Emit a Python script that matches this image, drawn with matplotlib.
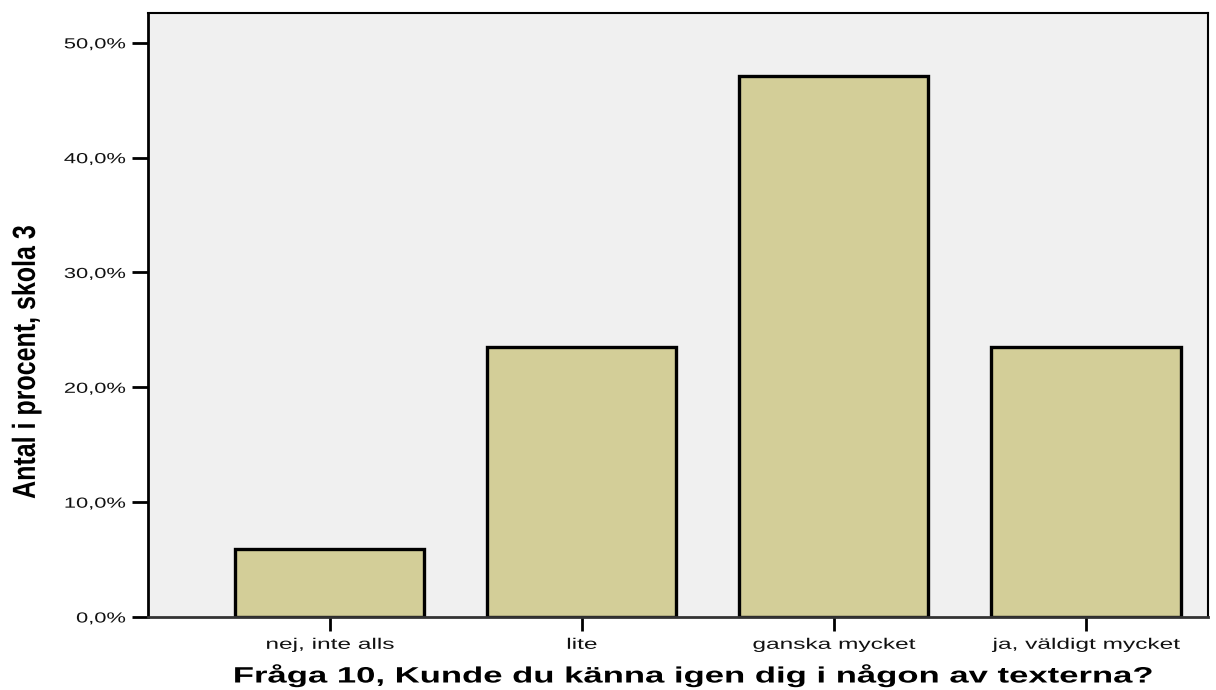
import matplotlib
matplotlib.use('Agg')
import matplotlib.pyplot as plt
from matplotlib.patheffects import AbstractPathEffect
from matplotlib.transforms import Affine2D

categories = ['nej, inte alls', 'lite', 'ganska mycket', 'ja, väldigt mycket']
percent = [5.9, 23.5, 47.1, 23.5]
yticks = [0, 10, 20, 30, 40, 50]

plt.rcParams['font.family'] = ['Liberation Sans', 'DejaVu Sans']


class StretchX(AbstractPathEffect):
    """Widen text horizontally (screen x) around an anchor, like the source export."""

    def __init__(self, sx, anchor='center'):
        super().__init__()
        self.sx = sx
        self.anchor = anchor

    def draw_path(self, renderer, gc, tpath, affine, rgbFace=None):
        ext = tpath.get_extents(affine)
        cx = {'left': ext.x0, 'right': ext.x1,
              'center': (ext.x0 + ext.x1) / 2}[self.anchor]
        affine = affine + Affine2D().translate(-cx, 0).scale(self.sx, 1).translate(cx, 0)
        renderer.draw_path(gc, tpath, affine, rgbFace)


fig = plt.figure(figsize=(12.16, 6.9), dpi=100)
ax = fig.add_axes([0.1217, 0.1058, 0.8717, 0.8754])
ax.set_facecolor('#F0F0F0')

x = list(range(len(categories)))
ax.bar(x, percent, width=0.75, color='#D3CE98', edgecolor='black', linewidth=2.4, zorder=2)

ax.set_xlim(-0.722, 3.484)
ax.set_ylim(0, 52.6)

ax.set_xticks(x)
xlbls = ax.set_xticklabels(categories, fontsize=11, color='#111111')
for t in xlbls:
    t.set_path_effects([StretchX(1.6, 'center')])

ax.set_yticks(yticks)
ylbls = ax.set_yticklabels([f'{v:.1f}%'.replace('.', ',') for v in yticks],
                           fontsize=10.5, color='#111111')
for t in ylbls:
    t.set_path_effects([StretchX(1.5, 'right')])

ax.tick_params(axis='y', direction='out', length=11.5, width=2, pad=4.5, colors='black',
               labelcolor='#111111')
ax.tick_params(axis='x', direction='out', length=10, width=2, pad=5, colors='black',
               labelcolor='#111111')

ax.spines['top'].set_linewidth(1.5)
ax.spines['right'].set_linewidth(1.5)
ax.spines['left'].set_linewidth(2)
ax.spines['bottom'].set_linewidth(2)
ax.spines['bottom'].set_color('#333333')

xl = ax.set_xlabel('Fråga 10, Kunde du känna igen dig i någon av texterna?',
                   fontsize=16, fontweight='bold', va='center')
ax.xaxis.set_label_coords(0.514, -0.0977)
xl.set_path_effects([StretchX(1.56, 'center')])

yl = ax.set_ylabel('Antal i procent, skola 3', fontsize=18, fontweight='bold', va='center')
ax.yaxis.set_label_coords(-0.115, 0.422)
yl.set_path_effects([StretchX(1.28, 'center')])

fig.savefig('out.png', dpi=100, facecolor='white')
